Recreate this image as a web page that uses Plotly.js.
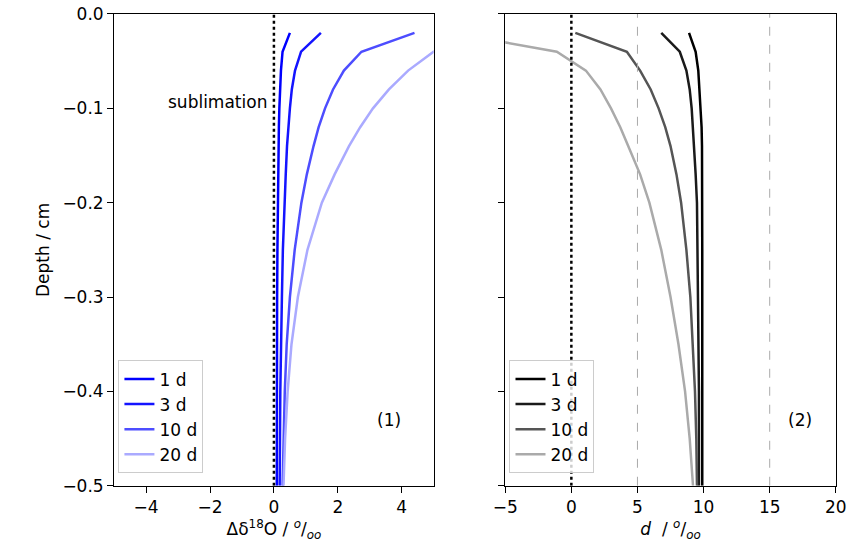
<!DOCTYPE html>
<html>
<head>
<script src="https://cdn.plot.ly/plotly-3.0.1.min.js"></script>
<style>body{margin:0}</style>
</head>
<body>
<div id="chart" style="width:852px;height:559px"></div>
<script>
// Depth of the model points (cm)
const depth = [-0.02, -0.04, -0.06, -0.08, -0.1, -0.12, -0.14, -0.17, -0.2, -0.25, -0.3, -0.35, -0.4, -0.45, -0.5];

// Panel 1: delta 18O anomaly
const d18O_1d  = [0.5, 0.27, 0.22, 0.19, 0.17, 0.155, 0.145, 0.13, 0.12, 0.11, 0.1, 0.1, 0.09, 0.09, 0.09];
const d18O_3d  = [1.47, 0.85, 0.66, 0.56, 0.5, 0.45, 0.41, 0.37, 0.33, 0.28, 0.25, 0.22, 0.2, 0.19, 0.18];
const d18O_10d = [4.4, 2.74, 2.19, 1.85, 1.6, 1.4, 1.24, 1.03, 0.86, 0.65, 0.5, 0.4, 0.34, 0.3, 0.27];
const d18O_20d = [6.5, 5.0, 4.2, 3.6, 3.1, 2.7, 2.35, 1.9, 1.5, 1.05, 0.75, 0.55, 0.43, 0.35, 0.3];

// Panel 2: deuterium excess
const dex_1d  = [8.9, 9.4, 9.6, 9.7, 9.8, 9.85, 9.88, 9.9, 9.9, 9.9, 9.9, 9.9, 9.9, 9.9, 9.9];
const dex_3d  = [6.8, 8.2, 8.7, 8.95, 9.1, 9.2, 9.3, 9.4, 9.5, 9.55, 9.6, 9.6, 9.65, 9.65, 9.65];
const dex_10d = [0.3, 4.2, 5.2, 6.0, 6.6, 7.1, 7.5, 7.95, 8.3, 8.7, 9.0, 9.2, 9.35, 9.45, 9.5];
const dex_20d = [-9, -1.1, 1.1, 2.2, 3.0, 3.7, 4.3, 5.2, 5.9, 6.8, 7.5, 8.1, 8.6, 8.95, 9.2];

const days = ['1 d', '3 d', '10 d', '20 d'];
const blues = ['#0000ff', '#1414ff', '#4d4dff', '#aaaaff'];
const greys = ['#000000', '#1a1a1a', '#555555', '#aaaaaa'];

const left = [d18O_1d, d18O_3d, d18O_10d, d18O_20d];
const right = [dex_1d, dex_3d, dex_10d, dex_20d];

var traces = [];
left.forEach((xs, i) => traces.push({
  x: xs, y: depth, name: days[i], mode: 'lines', line: { color: blues[i], width: 2.5 },
  xaxis: 'x', yaxis: 'y', legend: 'legend'
}));
right.forEach((xs, i) => traces.push({
  x: xs, y: depth, name: days[i], mode: 'lines', line: { color: greys[i], width: 2.5 },
  xaxis: 'x2', yaxis: 'y2', legend: 'legend2'
}));

var font = { family: 'DejaVu Sans', size: 17, color: '#000' };
var axisBase = {
  showgrid: false, zeroline: false, showline: true, mirror: true, linecolor: '#000', linewidth: 1.2,
  ticks: 'outside', ticklen: 6, tickcolor: '#000', tickfont: font
};

var layout = {
  width: 852, height: 559,
  margin: { l: 0, r: 0, t: 0, b: 0 },
  paper_bgcolor: '#fff', plot_bgcolor: '#fff',
  font: font,
  xaxis: Object.assign({}, axisBase, {
    domain: [0.134, 0.509], range: [-5, 5], tickvals: [-4, -2, 0, 2, 4],
    ticktext: ['−4', '−2', '0', '2', '4'],
    title: { text: 'Δδ<sup>18</sup>O / <sup><i>o</i></sup>/<sub><i>oo</i></sub>', font: font, standoff: 4 }
  }),
  yaxis: Object.assign({}, axisBase, {
    domain: [0.131, 0.975], range: [-0.5, 0], tickvals: [0, -0.1, -0.2, -0.3, -0.4, -0.5],
    ticktext: ['0.0', '−0.1', '−0.2', '−0.3', '−0.4', '−0.5'],
    title: { text: 'Depth / cm', font: font, standoff: 8 }
  }),
  xaxis2: Object.assign({}, axisBase, {
    domain: [0.593, 0.981], range: [-5, 20], tickvals: [-5, 0, 5, 10, 15, 20], anchor: 'y2',
    ticktext: ['−5', '0', '5', '10', '15', '20'],
    title: { text: '<i>d</i>  / <sup><i>o</i></sup>/<sub><i>oo</i></sub>', font: font, standoff: 4 }
  }),
  yaxis2: Object.assign({}, axisBase, {
    domain: [0.131, 0.975], range: [-0.5, 0], tickvals: [0, -0.1, -0.2, -0.3, -0.4, -0.5],
    showticklabels: false, anchor: 'x2'
  }),
  shapes: [
    { type: 'line', xref: 'x', yref: 'y', x0: 0, x1: 0, y0: -0.5, y1: 0, line: { color: '#000', width: 2.5, dash: 'dot' } },
    { type: 'line', xref: 'x2', yref: 'y2', x0: 0, x1: 0, y0: -0.5, y1: 0, line: { color: '#000', width: 2.5, dash: 'dot' } },
    { type: 'line', xref: 'x2', yref: 'y2', x0: 5, x1: 5, y0: -0.5, y1: 0, line: { color: '#aaa', width: 1, dash: 'dash' } },
    { type: 'line', xref: 'x2', yref: 'y2', x0: 15, x1: 15, y0: -0.5, y1: 0, line: { color: '#aaa', width: 1, dash: 'dash' } }
  ],
  annotations: [
    { xref: 'x', yref: 'y', x: -0.15, y: -0.093, text: 'sublimation', showarrow: false, xanchor: 'right', font: font },
    { xref: 'x', yref: 'y', x: 3.6, y: -0.43, text: '(1)', showarrow: false, font: font },
    { xref: 'x2', yref: 'y2', x: 17.3, y: -0.43, text: '(2)', showarrow: false, font: font }
  ],
  legend: {
    x: 0.139, y: 0.153, xanchor: 'left', yanchor: 'bottom', bgcolor: 'rgba(255,255,255,0.8)',
    bordercolor: '#ccc', borderwidth: 1, font: font
  },
  legend2: {
    x: 0.598, y: 0.153, xanchor: 'left', yanchor: 'bottom', bgcolor: 'rgba(255,255,255,0.8)',
    bordercolor: '#ccc', borderwidth: 1, font: font
  },
  showlegend: true
};

Plotly.newPlot('chart', traces, layout, { displayModeBar: false });
</script>
</body>
</html>
